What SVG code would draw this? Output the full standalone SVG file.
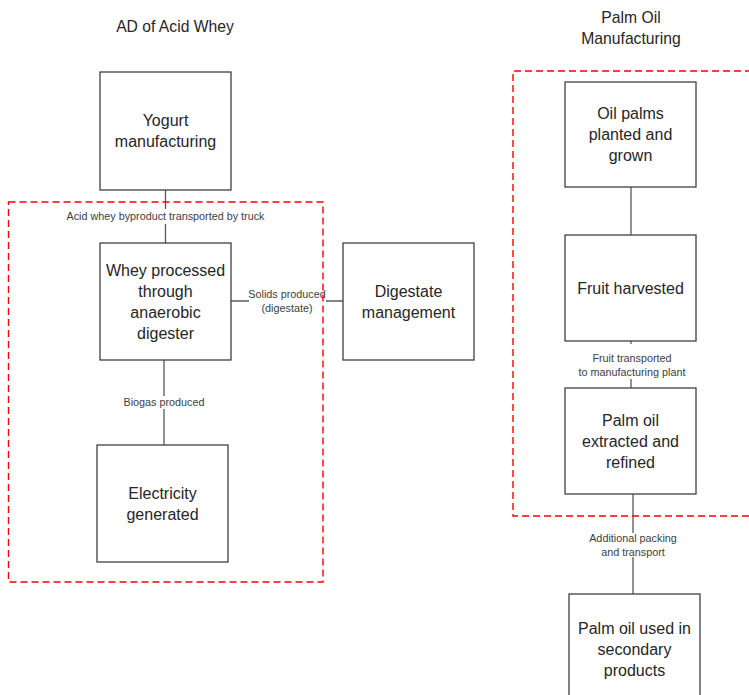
<svg xmlns="http://www.w3.org/2000/svg" width="749" height="695" viewBox="0 0 749 695">
<style>
.box{fill:#fff;stroke:#404040;stroke-width:1.3}
.bt{font-family:"Liberation Sans",Arial,sans-serif;font-size:16px;fill:#262626;text-anchor:middle}
.tt{font-family:"Liberation Sans",Arial,sans-serif;font-size:15.7px;fill:#262626;text-anchor:middle}
.lt{font-family:"Liberation Sans",Arial,sans-serif;font-size:10.8px;fill:#404040;text-anchor:middle}
.ln{stroke:#595959;stroke-width:1.3;fill:none}
.bg{fill:#fff}
.dash{fill:none;stroke:#ff0000;stroke-width:1.4;stroke-dasharray:7,4}
</style>
<rect width="749" height="695" fill="#fff"/>
<g id="titles">
<text class="tt" x="175" y="32">AD of Acid Whey</text>
<text class="tt" x="631" y="23">Palm Oil</text>
<text class="tt" x="631" y="44">Manufacturing</text>
</g>
<g id="connectors">
<line class="ln" x1="165.5" y1="190" x2="165.5" y2="243"/>
<line class="ln" x1="164" y1="360" x2="164" y2="445"/>
<line class="ln" x1="231" y1="301" x2="343" y2="301"/>
<line class="ln" x1="631" y1="187" x2="631" y2="235"/>
<line class="ln" x1="631" y1="341" x2="631" y2="388"/>
<line class="ln" x1="633" y1="494" x2="633" y2="594"/>
<rect class="bg" x="66" y="209" width="199" height="15"/>
<text class="lt" x="165.5" y="219.5">Acid whey byproduct transported by truck</text>
<rect class="bg" x="124" y="396" width="81" height="13"/>
<text class="lt" x="164" y="405.5">Biogas produced</text>
<rect class="bg" x="249" y="288" width="77" height="28"/>
<text class="lt" x="287" y="297.5">Solids produced</text>
<text class="lt" x="287" y="311.5">(digestate)</text>
<rect class="bg" x="577" y="344" width="110" height="35"/>
<text class="lt" x="632" y="361.5">Fruit transported</text>
<text class="lt" x="632" y="375.5">to manufacturing plant</text>
<rect class="bg" x="589" y="533" width="89" height="24"/>
<text class="lt" x="633" y="541.5">Additional packing</text>
<text class="lt" x="633" y="555.5">and transport</text>
</g>
<g id="boundaries">
<rect class="dash" x="8.5" y="202" width="314.5" height="380"/>
<path class="dash" d="M752 71 H513 V516 H752"/>
</g>
<g id="yogurt">
<rect class="box" x="100" y="72" width="131" height="118"/>
<text class="bt" x="165.5" y="126">Yogurt</text>
<text class="bt" x="165.5" y="147">manufacturing</text>
</g>
<g id="whey">
<rect class="box" x="100" y="243" width="131" height="117"/>
<text class="bt" x="165.5" y="276">Whey processed</text>
<text class="bt" x="165.5" y="297">through</text>
<text class="bt" x="165.5" y="318">anaerobic</text>
<text class="bt" x="165.5" y="339">digester</text>
</g>
<g id="digestate">
<rect class="box" x="343" y="243" width="131" height="117"/>
<text class="bt" x="408.5" y="297">Digestate</text>
<text class="bt" x="408.5" y="318">management</text>
</g>
<g id="electricity">
<rect class="box" x="97" y="445" width="131" height="117"/>
<text class="bt" x="162.5" y="499">Electricity</text>
<text class="bt" x="162.5" y="520">generated</text>
</g>
<g id="oilpalms">
<rect class="box" x="565" y="82" width="131" height="105"/>
<text class="bt" x="630.5" y="119">Oil palms</text>
<text class="bt" x="630.5" y="140">planted and</text>
<text class="bt" x="630.5" y="161">grown</text>
</g>
<g id="fruit">
<rect class="box" x="565" y="235" width="131" height="106"/>
<text class="bt" x="630.5" y="294">Fruit harvested</text>
</g>
<g id="extracted">
<rect class="box" x="565" y="388" width="131" height="106"/>
<text class="bt" x="630.5" y="426">Palm oil</text>
<text class="bt" x="630.5" y="447">extracted and</text>
<text class="bt" x="630.5" y="468">refined</text>
</g>
<g id="secondary">
<rect class="box" x="569" y="594" width="131" height="110"/>
<text class="bt" x="634.5" y="633.5">Palm oil used in</text>
<text class="bt" x="634.5" y="654.5">secondary</text>
<text class="bt" x="634.5" y="675.5">products</text>
</g>
</svg>
